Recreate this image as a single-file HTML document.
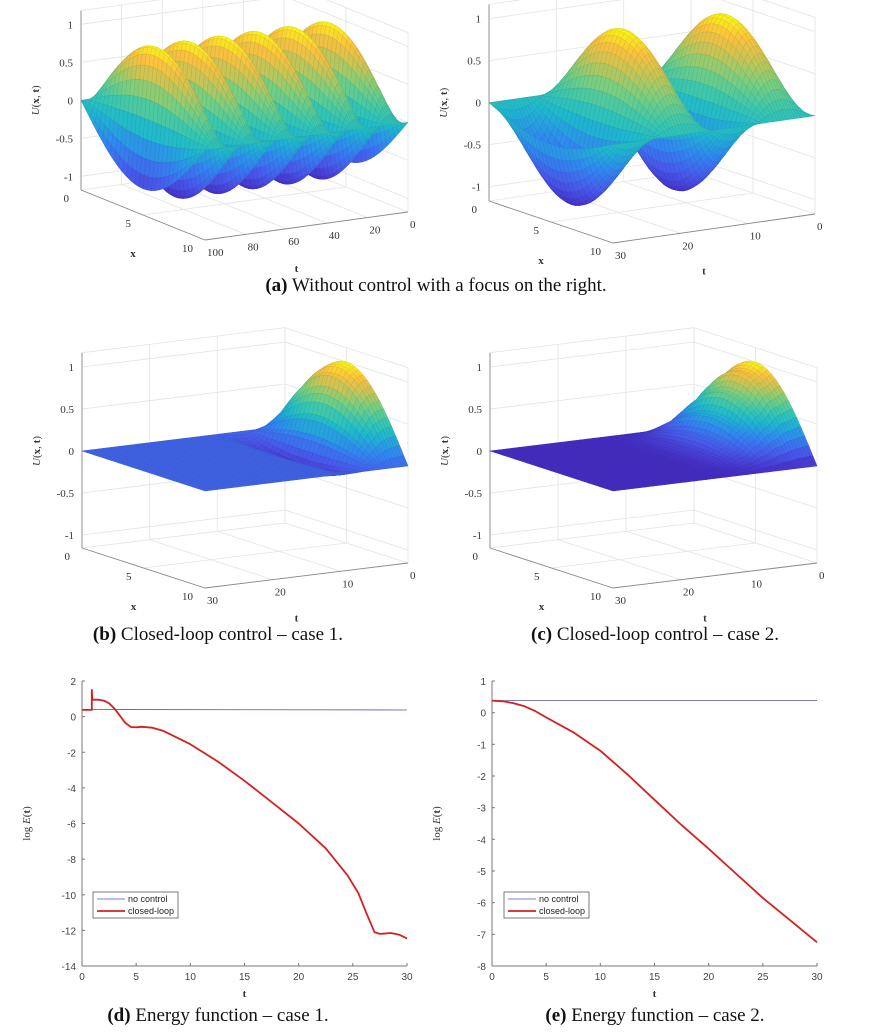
<!DOCTYPE html>
<html><head><meta charset="utf-8">
<style>
html,body{margin:0;padding:0;background:#fff;}
svg{display:block;}
.cap{font-family:"Liberation Serif",serif;font-size:19px;fill:#111;}
.t3{font-family:"Liberation Serif",serif;font-size:11px;fill:#333;}
.t2{font-family:"Liberation Sans",sans-serif;font-size:10px;fill:#444;}
.lg{font-family:"Liberation Sans",sans-serif;font-size:9px;fill:#222;}
</style></head>
<body>
<svg id="fig" width="871" height="1035" viewBox="0 0 871 1035" xmlns="http://www.w3.org/2000/svg">
<text class="cap" x="436" y="291" text-anchor="middle"><tspan font-weight="bold">(a)</tspan> Without control with a focus on the right.</text>
<text class="cap" x="218" y="640" text-anchor="middle"><tspan font-weight="bold">(b)</tspan> Closed-loop control – case 1.</text>
<text class="cap" x="655" y="640" text-anchor="middle"><tspan font-weight="bold">(c)</tspan> Closed-loop control – case 2.</text>
<text class="cap" x="218" y="1021" text-anchor="middle"><tspan font-weight="bold">(d)</tspan> Energy function – case 1.</text>
<text class="cap" x="655" y="1021" text-anchor="middle"><tspan font-weight="bold">(e)</tspan> Energy function – case 2.</text>
</svg>
<script>
// ---- data ----
const xTicks3 = [0,5,10];
const zTicks3 = [-1,-0.5,0,0.5,1];
const tTicksLong = [0,20,40,60,80,100];
const tTicksShort = [0,10,20,30];
// surface (a-left): periodic oscillation parameters
const aLPeriod = [17.2];
const aLPeakTime = [93];
// surface (a-right)
const aRPeriod = [15.2];
const aRPeakTime = [4];
// surface (b): temporal amplitude knots
const bTimes = [0,1,2,3,4,5,6,7,8,9,10,11,30];
const bAmp   = [1,0.97,0.86,0.64,0.38,0.12,-0.1,-0.24,-0.2,-0.1,-0.03,0,0];
// surface (c)
const cTimes = [0,2,4,6,8,10,12,14,30];
const cAmp   = [1,0.9,0.68,0.42,0.2,0.08,0.02,0,0];

// energy case 1
const tD = [0,0.9,0.9,0.95,1.5,2,2.5,3,3.5,4,4.5,5,5.5,6.5,7.5,8.5,10,12.5,15,17.5,20,22.5,24.5,25.5,26.3,27,27.5,28.5,29.3,30];
const closedD = [0.38,0.38,1.5,0.95,0.95,0.9,0.75,0.45,0.05,-0.35,-0.58,-0.6,-0.57,-0.62,-0.8,-1.1,-1.55,-2.5,-3.6,-4.8,-6.0,-7.4,-8.9,-9.9,-11.1,-12.1,-12.2,-12.15,-12.25,-12.45];
const tNoD = [0,30];
const noD = [0.4,0.37];
// energy case 2
const tE = [0,1,2,3,4,5,7.5,10,12.5,15,17.5,20,22.5,25,27.5,30];
const closedE = [0.38,0.36,0.3,0.2,0.05,-0.15,-0.62,-1.2,-1.95,-2.75,-3.55,-4.3,-5.08,-5.85,-6.55,-7.25];
const tNoE = [0,30];
const noE = [0.38,0.38];

const NS='http://www.w3.org/2000/svg';
const fig=document.getElementById('fig');
function mk(tag,attrs,parent){const e=document.createElementNS(NS,tag);for(const k in attrs)e.setAttribute(k,attrs[k]);(parent||fig).appendChild(e);return e;}

const PAR=[[0,[70,46,200]],[0.15,[72,90,236]],[0.3,[48,136,240]],[0.45,[30,184,206]],[0.55,[56,198,176]],[0.68,[120,206,128]],[0.8,[200,196,84]],[0.9,[250,192,64]],[1,[249,248,20]]];
function cmapRGB(v){v=Math.max(0,Math.min(1,v));for(let i=1;i<PAR.length;i++){if(v<=PAR[i][0]){const a=PAR[i-1],b=PAR[i];const f=(v-a[0])/(b[0]-a[0]);return a[1].map((q,j)=>Math.round(q+(b[1][j]-q)*f));}}return [249,248,20];}
function rgb(c,k){return 'rgb('+c.map(q=>Math.round(q*k)).join(',')+')';}
function interp(xs,ys,x){if(x<=xs[0])return ys[0];for(let i=1;i<xs.length;i++){if(x<=xs[i]){const f=(x-xs[i-1])/(xs[i]-xs[i-1]);const s=(1-Math.cos(Math.PI*f))/2;return ys[i-1]+(ys[i]-ys[i-1])*s;}}return ys[ys.length-1];}

function surf3d(cfg){
  const g=mk('g',{});
  
  
  const {A,B,C,zPix,zmin,zmax,tmax}=cfg;
  function P(x,t,z){const s=tmax-t;return [A[0]+(B[0]-A[0])*x/10+(C[0]-B[0])*s/tmax, A[1]+(B[1]-A[1])*x/10+(C[1]-B[1])*s/tmax-zPix*(z-zmin)];}
  function line(p,q,col,w,nm){const l=mk('line',{x1:p[0].toFixed(1),y1:p[1].toFixed(1),x2:q[0].toFixed(1),y2:q[1].toFixed(1),stroke:col,'stroke-width':w},g);}
  const gc='#e3e3e3';
  zTicks3.forEach(z=>{line(P(0,0,z),P(0,tmax,z),gc,0.8,'grid-z');line(P(0,0,z),P(10,0,z),gc,0.8,'grid-z');});
  cfg.tTicks.forEach(t=>{line(P(0,t,zmin),P(0,t,zmax),gc,0.8,'grid-t');line(P(0,t,zmin),P(10,t,zmin),gc,0.8,'grid-t');});
  xTicks3.forEach(x=>{line(P(x,0,zmin),P(x,0,zmax),gc,0.8,'grid-x');line(P(x,0,zmin),P(x,tmax,zmin),gc,0.8,'grid-x');});
  line(P(0,0,zmax),P(0,tmax,zmax),gc,0.8,'grid-top');line(P(0,0,zmax),P(10,0,zmax),gc,0.8,'grid-top');
  line(P(0,tmax,zmin),P(0,tmax,zmax),'#888',0.9,'z-axis');
  line(P(0,tmax,zmin),P(10,tmax,zmin),'#888',0.9,'x-axis');
  line(P(10,tmax,zmin),P(10,0,zmin),'#888',0.9,'t-axis');
  const nx=30,nt=cfg.nt;const Z=[];let mn=1e9,mx=-1e9;
  for(let i=0;i<=nx;i++){Z.push([]);const x=10*i/nx;for(let j=0;j<=nt;j++){const t=tmax*j/nt;const z=Math.sin(Math.PI*x/10)*cfg.amp(t);Z[i].push(z);mn=Math.min(mn,z);mx=Math.max(mx,z);}}
  const a=(B[0]-A[0])/10,b=(C[0]-B[0])/tmax,c=(B[1]-A[1])/10,d=(C[1]-B[1])/tmax;
  const sg0=(c*b-d*a)>0?1:-1;
  const quads=[];
  for(let i=0;i<nx;i++)for(let j=0;j<nt;j++){const x=10*(i+0.5)/nx,t=tmax*(j+0.5)/nt;const s=tmax-t;quads.push([sg0*(b*x-a*s),i,j]);}
  quads.sort((p,q)=>p[0]-q[0]);
  const sg=mk('g',{},g);
  
  
  quads.forEach(q=>{const i=q[1],j=q[2];const x0=10*i/nx,x1=10*(i+1)/nx,t0=tmax*j/nt,t1=tmax*(j+1)/nt;
    const pts=[P(x0,t0,Z[i][j]),P(x1,t0,Z[i+1][j]),P(x1,t1,Z[i+1][j+1]),P(x0,t1,Z[i][j+1])];
    const zc=(Z[i][j]+Z[i+1][j]+Z[i+1][j+1]+Z[i][j+1])/4;const cc=cmapRGB((zc-mn)/((mx-mn)||1));
    const p=mk('path',{d:'M'+pts.map(p=>p[0].toFixed(1)+' '+p[1].toFixed(1)).join('L')+'Z',fill:rgb(cc,1),stroke:rgb(cc,0.9),'stroke-width':0.5},sg);
    });
  zTicks3.forEach(z=>{const p=P(0,tmax,z);const e=mk('text',{class:'t3',x:(p[0]-8).toFixed(1),y:(p[1]+4).toFixed(1),'text-anchor':'end'},g);e.textContent=String(z);});
  xTicks3.forEach(x=>{const p=P(x,tmax,zmin);const e=mk('text',{class:'t3',x:(p[0]-12).toFixed(1),y:(p[1]+12).toFixed(1),'text-anchor':'end'},g);e.textContent=String(x);});
  cfg.tTicks.forEach(t=>{const p=P(10,t,zmin);const e=mk('text',{class:'t3',x:(p[0]+2).toFixed(1),y:(p[1]+16).toFixed(1),'text-anchor':'start'},g);e.textContent=String(t);});
  const mA=P(5,tmax,zmin),mB=P(10,tmax/2,zmin);
  let e=mk('text',{class:'t3','font-weight':'bold','font-size':'13',x:(mA[0]-10).toFixed(1),y:(mA[1]+42).toFixed(1),'text-anchor':'middle'},g);e.textContent='x';
  e=mk('text',{class:'t3','font-weight':'bold','font-size':'13',x:(mB[0]-10).toFixed(1),y:(mB[1]+46).toFixed(1),'text-anchor':'middle'},g);e.textContent='t';
  const pz=P(0,tmax,0);const lx=pz[0]-42,ly=pz[1];
  e=mk('text',{class:'t3','font-size':'12',x:lx,y:ly,'text-anchor':'middle',transform:'rotate(-90 '+lx+' '+ly+')'},g);
  e.innerHTML='<tspan font-style="italic">U</tspan>(<tspan font-weight="bold">x</tspan>, <tspan font-weight="bold">t</tspan>)';
  
}

surf3d({name:'surface-a-left',A:[81,190],B:[205,240],C:[408,212],zPix:76,zmin:-1.18,zmax:1.18,tmax:100,tTicks:tTicksLong,nt:140,
  amp:t=>Math.cos(2*Math.PI*(t-aLPeakTime[0])/aLPeriod[0])});
surf3d({name:'surface-a-right',A:[489,201],B:[613,243],C:[815,214],zPix:84,zmin:-1.17,zmax:1.17,tmax:30,tTicks:tTicksShort,nt:70,
  amp:t=>Math.cos(2*Math.PI*(t-aRPeakTime[0])/aRPeriod[0])});
surf3d({name:'surface-b',A:[82,548],B:[205,588],C:[408,563],zPix:84,zmin:-1.155,zmax:1.17,tmax:30,tTicks:tTicksShort,nt:70,
  amp:t=>interp(bTimes,bAmp,t)});
surf3d({name:'surface-c',A:[490,548],B:[613,588],C:[817,563],zPix:84,zmin:-1.155,zmax:1.17,tmax:30,tTicks:tTicksShort,nt:70,
  amp:t=>interp(cTimes,cAmp,t)});

function chart2d(cfg){
  const g=mk('g',{});
  
  
  const X=t=>cfg.x0+(cfg.x1-cfg.x0)*t/30;
  const Y=v=>cfg.y0+(cfg.y1-cfg.y0)*(v-cfg.vmax)/(cfg.vmin-cfg.vmax);
  let l=mk('line',{x1:X(0),y1:Y(cfg.vmax),x2:X(0),y2:Y(cfg.vmin),stroke:'#777','stroke-width':1},g);
  l=mk('line',{x1:X(0),y1:Y(cfg.vmin),x2:X(30),y2:Y(cfg.vmin),stroke:'#777','stroke-width':1},g);
  cfg.yTicks.forEach(v=>{const k=mk('line',{x1:X(0),y1:Y(v),x2:X(0)+3,y2:Y(v),stroke:'#777'},g);
    const e=mk('text',{class:'t2',x:X(0)-6,y:Y(v)+4,'text-anchor':'end'},g);e.textContent=String(v);});
  [0,5,10,15,20,25,30].forEach(t=>{const k=mk('line',{x1:X(t),y1:Y(cfg.vmin),x2:X(t),y2:Y(cfg.vmin)-3,stroke:'#777'},g);
    const e=mk('text',{class:'t2',x:X(t),y:Y(cfg.vmin)+14,'text-anchor':'middle'},g);e.textContent=String(t);});
  let e=mk('text',{class:'t3','font-size':'13','font-weight':'bold',x:X(15),y:Y(cfg.vmin)+31,'text-anchor':'middle'},g);e.textContent='t';
  const yl=(Y(cfg.vmax)+Y(cfg.vmin))/2, xl=cfg.x0-52;
  e=mk('text',{class:'t3','font-size':'16',x:xl,y:yl,'text-anchor':'middle',transform:'rotate(-90 '+xl+' '+yl+')'},g);
  e.innerHTML='log <tspan font-style="italic">E</tspan>(<tspan font-weight="bold">t</tspan>)';
  let p=mk('path',{d:'M'+cfg.tNo.map((t,i)=>X(t).toFixed(1)+' '+Y(cfg.no[i]).toFixed(1)).join('L'),fill:'none',stroke:'#5555aa','stroke-width':0.8},g);
  
  p=mk('path',{d:'M'+cfg.tC.map((t,i)=>X(t).toFixed(1)+' '+Y(cfg.cl[i]).toFixed(1)).join('L'),fill:'none',stroke:'#d42020','stroke-width':1.8,'stroke-linejoin':'round'},g);
  
  const L=cfg.leg;
  const lg=mk('g',{},g);
  mk('rect',{x:L[0],y:L[1],width:85,height:26,fill:'#fff',stroke:'#444','stroke-width':0.7},lg);
  mk('line',{x1:L[0]+4,y1:L[1]+7,x2:L[0]+32,y2:L[1]+7,stroke:'#5555aa','stroke-width':0.8},lg);
  mk('line',{x1:L[0]+4,y1:L[1]+19,x2:L[0]+32,y2:L[1]+19,stroke:'#d42020','stroke-width':1.8},lg);
  e=mk('text',{class:'lg',x:L[0]+35,y:L[1]+10},lg);e.textContent='no control';
  e=mk('text',{class:'lg',x:L[0]+35,y:L[1]+22},lg);e.textContent='closed-loop';
}
chart2d({name:'energy-chart-case-1',x0:82,x1:407,y0:681,y1:966,vmax:2,vmin:-14,yTicks:[2,0,-2,-4,-6,-8,-10,-12,-14],tNo:tNoD,no:noD,tC:tD,cl:closedD,leg:[93,892]});
chart2d({name:'energy-chart-case-2',x0:492,x1:817,y0:681,y1:966,vmax:1,vmin:-8,yTicks:[1,0,-1,-2,-3,-4,-5,-6,-7,-8],tNo:tNoE,no:noE,tC:tE,cl:closedE,leg:[504,892]});
</script>
</body></html>
